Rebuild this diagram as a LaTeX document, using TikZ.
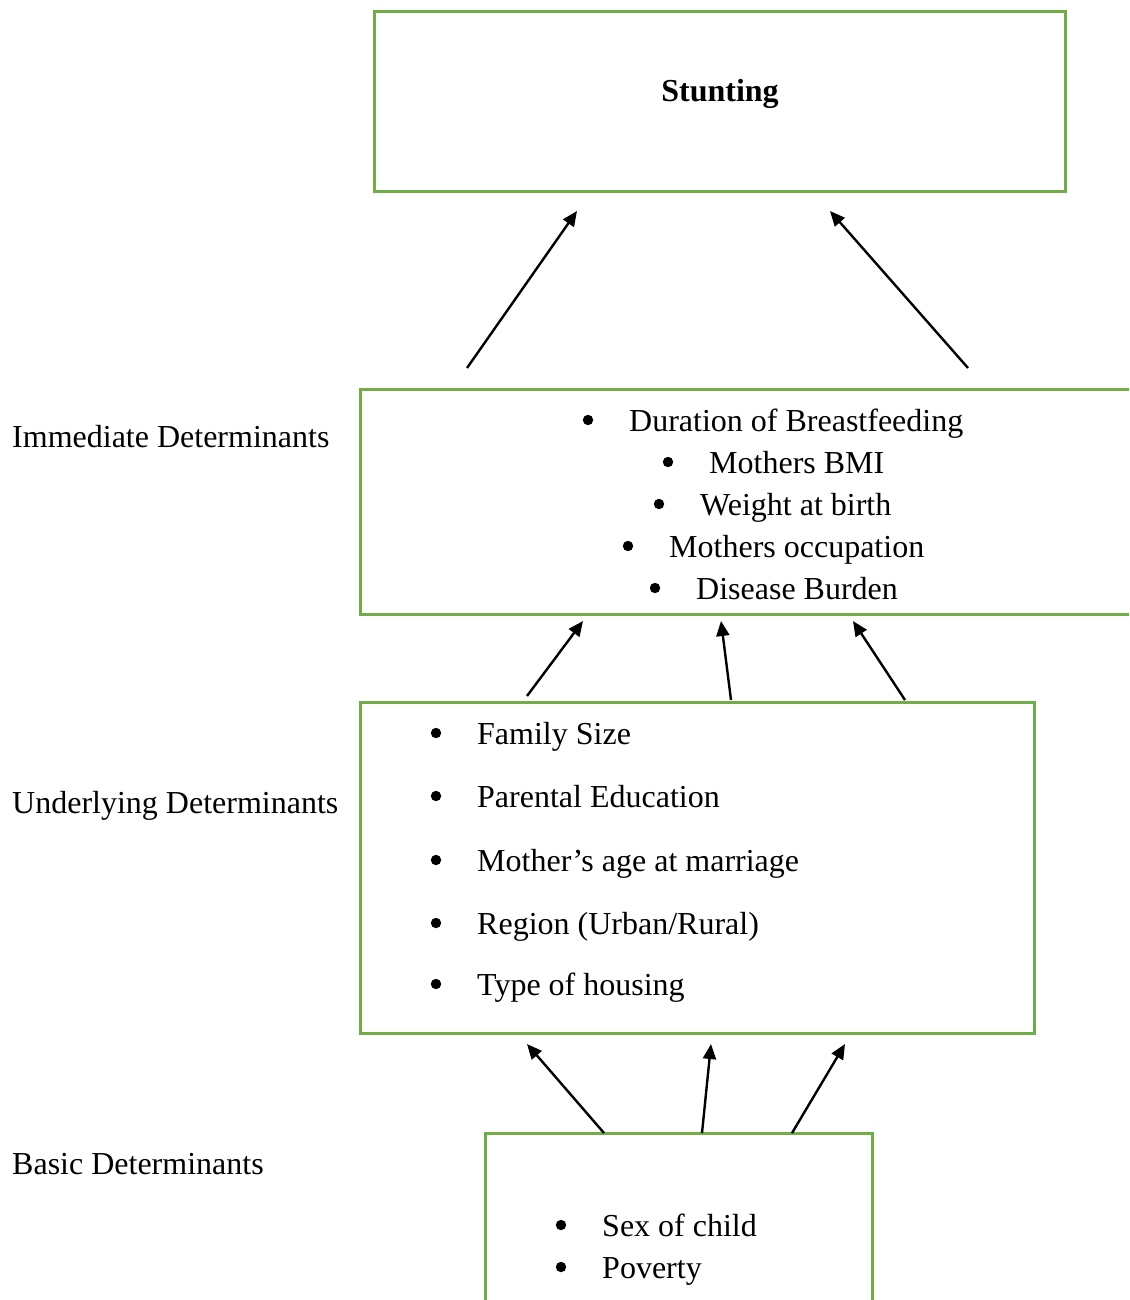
\documentclass[tikz,border=0pt]{standalone}
\usepackage{fontspec}
\setmainfont{Liberation Serif}
\usetikzlibrary{arrows.meta,calc}
\definecolor{boxgreen}{RGB}{112,173,71}
\begin{document}
\begin{tikzpicture}[x=1pt,y=-1pt,
  greenbox/.style={draw=boxgreen,line width=3pt},
  txt/.style={inner sep=0pt,anchor=base west,font=\fontsize{32}{38}\selectfont},
  item/.style={txt},
  arr/.style={line width=2.4pt,-{Triangle[length=15pt,width=13pt]}}]
\clip (0,0) rectangle (1129,1300);
\useasboundingbox (0,0) rectangle (1129,1300);
% boxes
\draw[greenbox] (374,12) rectangle (1065,192);
\draw[greenbox] (360,389) rectangle (1160,614);
\draw[greenbox] (360,702) rectangle (1034,1033);
\draw[greenbox] (485,1133) rectangle (872,1330);
% title
\node[inner sep=0pt,anchor=base,font=\fontsize{32}{38}\selectfont\bfseries] (stunt) at (720,102) {Stunting};
% labels
\node[txt] (limm) at (12,447) {Immediate Determinants};
\node[txt] (lund) at (12,813) {Underlying Determinants};
\node[txt] (lbas) at (12,1174) {Basic Determinants};
% immediate items
\node[item] (i1) at (629,431) {Duration of Breastfeeding};
\node[item] (i2) at (709,473) {Mothers BMI};
\node[item] (i3) at (700,515) {Weight at birth};
\node[item] (i4) at (669,557) {Mothers occupation};
\node[item] (i5) at (696,599) {Disease Burden};
% underlying items
\node[item] (u1) at (477,744) {Family Size};
\node[item] (u2) at (477,807) {Parental Education};
\node[item] (u3) at (477,871) {Mother’s age at marriage};
\node[item] (u4) at (477,934) {Region (Urban/Rural)};
\node[item] (u5) at (477,995) {Type of housing};
% basic items
\node[item] (b1) at (602,1236) {Sex of child};
\node[item] (b2) at (602,1278) {Poverty};
% bullets
\foreach \n in {i1,i2,i3,i4,i5,u1,u2,u3,u4,u5,b1,b2}
  \fill ($(\n.base west)+(-41,-11)$) circle (5.2pt);
% arrow endpoints
\coordinate (a1s) at (467,368); \coordinate (a1e) at (577,211);
\coordinate (a2s) at (968,368); \coordinate (a2e) at (830,211);
\coordinate (a3s) at (527,696); \coordinate (a3e) at (583,621);
\coordinate (a4s) at (731,700); \coordinate (a4e) at (721,621);
\coordinate (a5s) at (905,700); \coordinate (a5e) at (853,621);
\coordinate (a6s) at (604,1133); \coordinate (a6e) at (527,1044);
\coordinate (a7s) at (702,1133); \coordinate (a7e) at (711,1044);
\coordinate (a8s) at (792,1133); \coordinate (a8e) at (845,1044);
\foreach \k in {1,...,8} \draw[arr] (a\k s) -- (a\k e);
\end{tikzpicture}
\end{document}
